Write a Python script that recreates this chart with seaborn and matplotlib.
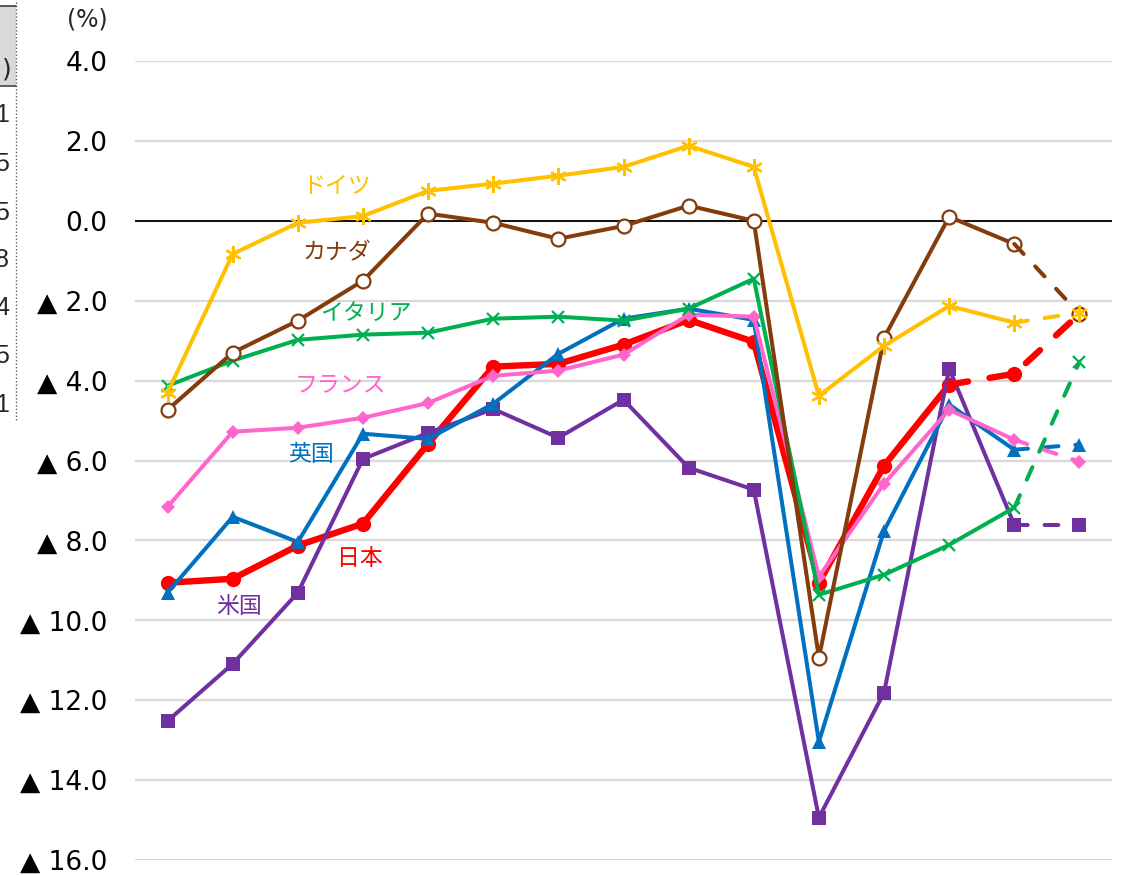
import matplotlib
matplotlib.use("Agg")
import matplotlib.pyplot as plt
from matplotlib.patches import Rectangle
from matplotlib.lines import Line2D
import numpy as np
import pandas as pd
import seaborn as sns

# ---- data (%), 15 periods; the last step(s) are projections ----
periods = list(range(15))

germany = [-4.30, -0.83, -0.05, 0.12, 0.75, 0.93, 1.13, 1.35, 1.88, 1.35,
           -4.38, -3.13, -2.13, -2.55, -2.30]
canada = [-4.73, -3.30, -2.50, -1.50, 0.18, -0.05, -0.45, -0.13, 0.38, 0.00,
          -10.94, -2.93, 0.10, -0.58, -2.33]
italy = [-4.13, -3.50, -2.98, -2.85, -2.80, -2.45, -2.40, -2.50, -2.20, -1.45,
         -9.36, -8.86, -8.11, -7.18, -3.53]
uk = [-9.31, -7.41, -8.04, -5.33, -5.46, -4.58, -3.33, -2.45, -2.20, -2.48,
      -13.04, -7.76, -4.60, -5.73, -5.60]
japan = [-9.06, -8.96, -8.13, -7.58, -5.58, -3.65, -3.58, -3.10, -2.48, -3.03,
         -9.06, -6.13, -4.10, -3.83, -2.33]
france = [-7.16, -5.28, -5.18, -4.93, -4.56, -3.88, -3.75, -3.35, -2.35, -2.40,
          -8.91, -6.58, -4.73, -5.48, -6.03]
usa = [-12.52, -11.09, -9.31, -5.96, -5.31, -4.71, -5.43, -4.48, -6.18, -6.73,
       -14.94, -11.81, -3.70, -7.61, -7.61]

names = ["日本", "米国", "英国", "フランス", "イタリア", "カナダ", "ドイツ"]
values = [japan, usa, uk, france, italy, canada, germany]
# index where the dashed (projected) part of each line begins
dash_from = [12, 13, 13, 13, 13, 13, 13]

yticks = [4, 2, 0, -2, -4, -6, -8, -10, -12, -14, -16]

# ---- styling ----
colors = {"日本": "#FF0000", "米国": "#7030A0", "英国": "#0070C0",
          "フランス": "#FF66CC", "イタリア": "#00B050", "カナダ": "#843C0C",
          "ドイツ": "#FFC000"}
markers = {"日本": "o", "米国": "s", "英国": "^", "フランス": "D",
           "イタリア": "x", "カナダ": "o", "ドイツ": (6, 2, 0)}
msizes = {"日本": 11, "米国": 10, "英国": 10, "フランス": 7,
          "イタリア": 9, "カナダ": 10, "ドイツ": 12}
lwidths = {"日本": 4.6, "米国": 2.9, "英国": 2.9, "フランス": 2.9,
           "イタリア": 2.9, "カナダ": 2.9, "ドイツ": 2.9}
label_pos = {"ドイツ": (2.6, 0.85), "カナダ": (2.6, -0.8), "イタリア": (3.05, -2.35),
             "フランス": (2.65, -4.1), "英国": (2.2, -5.85), "日本": (2.95, -8.45),
             "米国": (1.1, -9.65)}

sns.set_theme(style="white")
plt.rcParams["font.family"] = ["DejaVu Sans", "Noto Sans CJK JP"]

W, H = 1128, 875
fig = plt.figure(figsize=(W / 100, H / 100), dpi=100)
ax = fig.add_axes([135 / W, 1 - 860 / H, (1112 - 135) / W, (860 - 61) / H])


def marker_kw(name, col):
    kw = dict(marker=markers[name], markersize=msizes[name])
    if name == "カナダ":
        kw.update(markerfacecolor="white", markeredgecolor=col, markeredgewidth=1.6)
    elif name in ("イタリア", "ドイツ"):
        kw.update(markeredgecolor=col, markeredgewidth=1.6)
    else:
        kw.update(markerfacecolor=col, markeredgecolor=col, markeredgewidth=0)
    return kw


for name, vals, d in zip(names, values, dash_from):
    col = colors[name]
    df = pd.DataFrame({"period": periods, "value": vals})
    solid = df.iloc[: d + 1]
    sns.lineplot(data=solid, x="period", y="value", ax=ax, color=col,
                 linewidth=lwidths[name], estimator=None, sort=False,
                 zorder=3, **marker_kw(name, col))

for name, vals, d in zip(names, values, dash_from):
    col = colors[name]
    df = pd.DataFrame({"period": periods, "value": vals})
    proj = df.iloc[d:]
    sns.lineplot(data=proj, x="period", y="value", ax=ax, color=col,
                 linewidth=lwidths[name], estimator=None, sort=False,
                 dashes=False, zorder=4)
    ax.lines[-1].set_dashes([3.4, 4.2] if name != "日本" else [3.0, 3.4])
    ax.lines[-1].set_dash_capstyle("round")
    last = proj.iloc[1:]
    sns.lineplot(data=last, x="period", y="value", ax=ax, color=col,
                 linewidth=0, estimator=None, zorder=5, **marker_kw(name, col))

# series labels
for name, (x, y) in label_pos.items():
    ax.text(x, y, name, color=colors[name], fontsize=16.5, ha="center", va="center",
            family=["Noto Sans CJK JP", "DejaVu Sans"])

ax.set_xlim(-0.5, 14.5)
ax.set_ylim(-16, 4)
ax.set_yticks(yticks)
ax.set_yticklabels([f"{v:.1f}" if v >= 0 else f"▲ {abs(v):.1f}" for v in yticks],
                   fontsize=19, color="black")
ax.set_xticks([])
ax.tick_params(axis="y", length=0, pad=20)
ax.yaxis.grid(True, color="#D9D9D9", linewidth=1.6, zorder=0)
ax.set_axisbelow(True)
ax.axhline(0, color="black", linewidth=1.3, zorder=2)
for s in ax.spines.values():
    s.set_visible(False)
ax.set_xlabel("")
ax.set_ylabel("")
leg = ax.get_legend()
if leg is not None:
    leg.remove()

fig.text(87 / W, 1 - 20 / H, "(%)", fontsize=17, ha="center", va="center")

# edge of the neighbouring table on the left
fig.patches.append(Rectangle((0, 1 - 85 / H), 16 / W, 79 / H, transform=fig.transFigure,
                             facecolor="#D9D9D9", edgecolor="none"))
fig.lines.append(Line2D([0, 16 / W], [1 - 6 / H, 1 - 6 / H], transform=fig.transFigure,
                        color="#404040", linewidth=1.2))
fig.lines.append(Line2D([0, 16 / W], [1 - 86 / H, 1 - 86 / H], transform=fig.transFigure,
                        color="#404040", linewidth=1.2))
fig.lines.append(Line2D([16 / W, 16 / W], [1 - 420 / H, 1], transform=fig.transFigure,
                        color="#606060", linewidth=1.0, linestyle=(0, (1, 1.5))))
fig.text(12 / W, 1 - 70 / H, ")", fontsize=18, ha="right", va="center")
edge_digits = ["1", "5", "5", "8", "4", "5", "1"]
edge_y = [115, 164, 213, 260, 308, 356, 405]
for dgt, yy in zip(edge_digits, edge_y):
    fig.text(9 / W, 1 - yy / H, dgt, fontsize=18, ha="right", va="center",
             family="Liberation Sans")

fig.savefig("out.png", dpi=100)
